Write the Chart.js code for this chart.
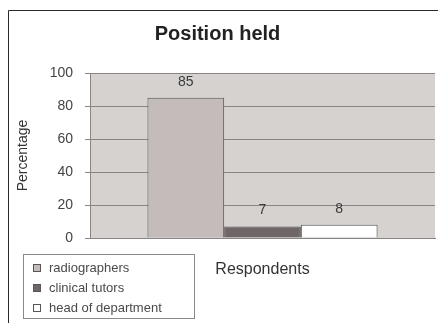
<!DOCTYPE html>
<html>
<head>
<meta charset="utf-8">
<script src="https://cdn.jsdelivr.net/npm/chart.js@4/dist/chart.umd.min.js"></script>
<style>
  html, body { margin: 0; padding: 0; background: #ffffff; }
  #wrap { width: 438px; height: 323px; }
</style>
</head>
<body>
<div id="wrap"><canvas id="chart" width="438" height="323"></canvas></div>
<script>
// Survey results: position held by respondents (percent)
const categories = ['Respondents'];
const seriesNames = ['radiographers', 'clinical tutors', 'head of department'];
const radiographers = [85];
const clinicalTutors = [7];
const headOfDepartment = [8];
const yTickValues = [0, 20, 40, 60, 80, 100];

const seriesData = [radiographers, clinicalTutors, headOfDepartment];
const seriesFill = ['#c3bcba', '#6f6667', '#ffffff'];

const FONT = '"Liberation Sans", Arial, sans-serif';

// white page, outer frame and grey plot background
const backdrop = {
  id: 'backdrop',
  beforeDraw(chart) {
    const { ctx, chartArea: a, width, height } = chart;
    ctx.save();
    ctx.fillStyle = '#ffffff';
    ctx.fillRect(0, 0, width, height);
    ctx.strokeStyle = '#2a2a2a';
    ctx.lineWidth = 1;
    ctx.beginPath();
    ctx.moveTo(8.5, height);
    ctx.lineTo(8.5, 10.5);
    ctx.lineTo(width, 10.5);
    ctx.stroke();
    ctx.fillStyle = '#d6d2d0';
    ctx.fillRect(a.left, a.top, a.right - a.left, a.bottom - a.top);
    ctx.restore();
  }
};

// value written above each bar
const valueLabels = {
  id: 'valueLabels',
  afterDatasetsDraw(chart) {
    const { ctx } = chart;
    ctx.save();
    ctx.font = '14px ' + FONT;
    ctx.fillStyle = '#3a3a3a';
    ctx.textAlign = 'center';
    ctx.textBaseline = 'middle';
    chart.data.datasets.forEach((ds, i) => {
      chart.getDatasetMeta(i).data.forEach((bar, j) => {
        ctx.fillText(String(ds.data[j]), bar.x, bar.y - 16);
      });
    });
    ctx.restore();
  }
};

// boxed legend in the lower left corner
const boxLegend = {
  id: 'boxLegend',
  afterDraw(chart) {
    const { ctx } = chart;
    const x0 = 23, y0 = 254, w = 171, h = 64, rowH = 20;
    ctx.save();
    ctx.fillStyle = '#ffffff';
    ctx.fillRect(x0, y0, w, h);
    ctx.strokeStyle = '#8c8888';
    ctx.lineWidth = 1;
    ctx.strokeRect(x0 + 0.5, y0 + 0.5, w, h);
    ctx.font = '13px ' + FONT;
    ctx.textAlign = 'left';
    ctx.textBaseline = 'middle';
    chart.data.datasets.forEach((ds, i) => {
      const cy = y0 + 14 + i * rowH;
      ctx.fillStyle = ds.backgroundColor;
      ctx.fillRect(33, cy - 4, 8, 8);
      ctx.strokeStyle = '#5a5555';
      ctx.strokeRect(33.5, cy - 3.5, 7, 7);
      ctx.fillStyle = '#4a4a4a';
      ctx.fillText(ds.label, 49, cy);
    });
    ctx.restore();
  }
};

new Chart(document.getElementById('chart'), {
  type: 'bar',
  data: {
    labels: categories,
    datasets: seriesNames.map((name, i) => ({
      label: name,
      data: seriesData[i],
      backgroundColor: seriesFill[i],
      borderColor: '#5a5555',
      borderWidth: 1,
      categoryPercentage: 0.667,
      barPercentage: 1
    }))
  },
  options: {
    responsive: false,
    animation: false,
    layout: { padding: { left: 0, right: 3, top: 0, bottom: 0 } },
    plugins: {
      legend: { display: false },
      tooltip: { enabled: false },
      title: {
        display: true,
        text: 'Position held',
        color: '#222222',
        font: { family: FONT, size: 20, weight: 'bold' },
        padding: { top: 22, bottom: 27 }
      }
    },
    scales: {
      x: {
        ticks: { display: false },
        grid: { display: false },
        border: { display: true, color: '#8a8585' },
        title: {
          display: true,
          text: categories[0],
          color: '#333333',
          font: { family: FONT, size: 16 },
          padding: { top: 0, bottom: 44 }
        },
        afterFit(scale) { scale.height = 85; }
      },
      y: {
        min: 0,
        max: 100,
        afterBuildTicks(scale) { scale.ticks = yTickValues.map(v => ({ value: v })); },
        ticks: {
          color: '#444444',
          padding: 12,
          font: { family: FONT, size: 14 }
        },
        grid: { color: '#8a8585', lineWidth: 1, tickLength: 5, drawTicks: true },
        border: { display: true, color: '#8a8585' },
        title: {
          display: true,
          text: 'Percentage',
          color: '#333333',
          font: { family: FONT, size: 14 },
          padding: { top: 15, bottom: 0 }
        },
        afterFit(scale) { scale.width = 90; }
      }
    }
  },
  plugins: [backdrop, valueLabels, boxLegend]
});
</script>
</body>
</html>
